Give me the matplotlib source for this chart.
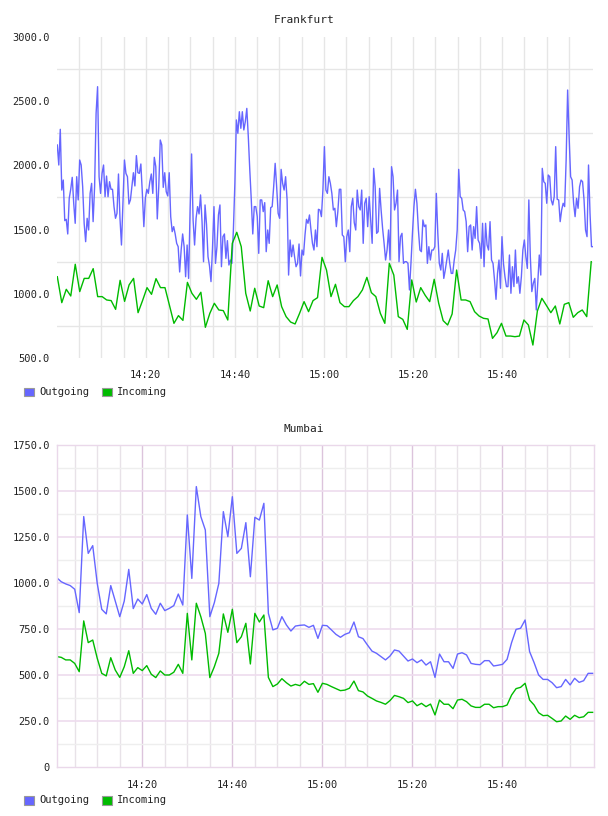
import matplotlib
matplotlib.use("Agg")
import matplotlib.pyplot as plt
import matplotlib.dates as mdates
from matplotlib.patches import Rectangle
import pandas as pd

# Frankfurt, outgoing sampled ~every 20 s, incoming once a minute
fra_out = [2159, 2003, 2281, 1808, 1886, 1570, 1580, 1466, 1744, 1814, 1907, 1705, 1549, 1912, 1731,
           2042, 2003, 1834, 1549, 1406, 1588, 1497, 1782, 1860, 1562, 1834, 2405, 2613, 1912, 1782,
           1938, 2003, 1756, 1917, 1756, 1873, 1814, 1814, 1679, 1588, 1627, 1933, 1588, 1380, 1705,
           2042, 1938, 1912, 1699, 1731, 1834, 1943, 1840, 2076, 1943, 1938, 2011, 1782, 1523, 1744,
           1814, 1782, 1873, 1933, 1782, 2063, 1990, 1583, 1834, 2198, 2159, 1829, 1943, 1795, 1762,
           1943, 1601, 1484, 1523, 1466, 1393, 1367, 1170, 1341, 1466, 1367, 1133, 1380, 1120, 1653,
           2089, 1575, 1380, 1588, 1679, 1622, 1770, 1562, 1250, 1692, 1541, 1289, 1217, 1095, 1354,
           1679, 1237, 1367, 1614, 1692, 1211, 1445, 1466, 1276, 1414, 1224, 1263, 1237, 1497, 1860,
           2354, 2250, 2418, 2289, 2418, 2276, 2341, 2444, 2224, 1964, 1731, 1466, 1679, 1679, 1601,
           1315, 1731, 1731, 1640, 1710, 1328, 1497, 1393, 1671, 1679, 1834, 2016, 1834, 1627, 1588,
           1969, 1860, 1808, 1912, 1731, 1146, 1419, 1289, 1380, 1289, 1211, 1237, 1388, 1139, 1341,
           1302, 1458, 1580, 1549, 1614, 1497, 1393, 1341, 1497, 1367, 1658, 1653, 1601, 1808, 2146,
           1808, 1782, 1912, 1860, 1782, 1653, 1666, 1523, 1640, 1814, 1814, 1458, 1445, 1250, 1445,
           1497, 1328, 1679, 1744, 1554, 1497, 1808, 1679, 1653, 1808, 1393, 1705, 1744, 1523, 1756,
           1575, 1393, 1977, 1834, 1471, 1484, 1821, 1653, 1510, 1393, 1263, 1341, 1497, 1263, 1990,
           1912, 1653, 1705, 1808, 1250, 1445, 1471, 1237, 1250, 1250, 1237, 1030, 1237, 1471, 1679,
           1814, 1705, 1497, 1341, 1328, 1575, 1523, 1536, 1237, 1367, 1263, 1341, 1341, 1367, 1782,
           1471, 1237, 1185, 1315, 1120, 1185, 1263, 1341, 1237, 1159, 1159, 1263, 1341, 1497, 1969,
           1756, 1744, 1653, 1640, 1562, 1328, 1523, 1536, 1341, 1523, 1432, 1679, 1419, 1393, 1276,
           1549, 1211, 1549, 1380, 1341, 1562, 1263, 1237, 1108, 957, 1159, 1263, 1043, 1445, 1237,
           1133, 1056, 1056, 1302, 1004, 1211, 1056, 1341, 1082, 1133, 1004, 1133, 1341, 1419, 1289,
           1198, 1731, 1289, 1017, 1082, 1120, 874, 1082, 1302, 1146, 1977, 1873, 1860, 1705, 1925,
           1912, 1731, 1692, 1756, 2146, 1736, 1731, 1562, 1653, 1705, 1679, 2042, 2587, 2224, 1912,
           1886, 1705, 1601, 1744, 1666, 1834, 1886, 1873, 1731, 1497, 1445, 2003, 1627, 1367, 1367]
fra_in = [1133, 931, 1035, 983, 1230, 1017, 1120, 1120, 1196, 978, 978, 952, 947, 879, 1105,
          941, 1069, 1120, 853, 947, 1048, 996, 1118, 1048, 1048, 910, 770, 830, 793, 1089,
          1004, 957, 1012, 739, 848, 926, 874, 869, 796, 1393, 1479, 1367, 1004, 866, 1043,
          905, 892, 1102, 978, 1069, 900, 822, 780, 765, 848, 939, 861, 947, 970, 1284,
          1185, 978, 1074, 931, 900, 900, 947, 978, 1030, 1128, 1009, 978, 848, 770, 1237,
          1146, 822, 801, 723, 1108, 936, 1048, 988, 939, 1113, 926, 791, 757, 843, 1185,
          952, 952, 939, 861, 827, 809, 804, 653, 697, 770, 671, 671, 666, 671, 796,
          757, 601, 866, 965, 910, 853, 905, 765, 918, 931, 817, 853, 874, 822, 1250]

# Mumbai, once a minute
mum_out = [1029, 1007, 995, 986, 966, 839, 1361, 1161, 1203, 998, 857, 832, 986, 902, 817,
           902, 1074, 861, 913, 886, 937, 862, 830, 890, 850, 862, 877, 940, 880, 1370,
           1025, 1524, 1361, 1288, 817, 893, 998, 1388, 1252, 1469, 1161, 1188, 1328, 1034, 1357,
           1342, 1433, 835, 745, 754, 817, 772, 739, 766, 770, 772, 759, 770, 699, 770,
           768, 745, 721, 705, 721, 730, 788, 708, 698, 663, 630, 618, 600, 582, 603,
           636, 630, 603, 576, 587, 567, 582, 554, 572, 487, 614, 572, 572, 536, 614,
           621, 609, 563, 558, 556, 578, 578, 549, 553, 558, 585, 676, 748, 754, 799,
           627, 567, 500, 476, 476, 458, 431, 437, 476, 446, 482, 460, 469, 509, 509]
mum_in = [600, 596, 582, 582, 563, 518, 794, 676, 690, 591, 509, 495, 594, 527, 487,
          545, 632, 509, 540, 524, 551, 504, 486, 522, 500, 500, 515, 558, 509, 835,
          582, 890, 817, 726, 486, 545, 618, 832, 732, 857, 676, 708, 781, 560, 835,
          788, 826, 487, 437, 451, 480, 458, 440, 449, 442, 466, 449, 453, 406, 455,
          449, 437, 426, 415, 418, 428, 467, 415, 408, 386, 373, 359, 351, 341, 361,
          389, 382, 373, 350, 359, 333, 346, 328, 342, 283, 364, 341, 341, 317, 364,
          368, 355, 332, 324, 324, 341, 341, 322, 328, 328, 337, 391, 426, 433, 455,
          364, 337, 295, 279, 281, 264, 246, 250, 277, 259, 281, 268, 273, 297, 297]

fra_yticks = [500, 1000, 1500, 2000, 2500, 3000]
fra_ylabels = ["500.0", "1000.0", "1500.0", "2000.0", "2500.0", "3000.0"]
mum_yticks = [0, 250, 500, 750, 1000, 1250, 1500, 1750]
mum_ylabels = ["0", "250.0", "500.0", "750.0", "1000.0", "1250.0", "1500.0", "1750.0"]
xlabels = ["14:20", "14:40", "15:00", "15:20", "15:40"]

day = "2020-01-01 "
fra_t_out = pd.date_range(day + "14:00:08", day + "16:00:24", periods=len(fra_out))
fra_t_in = pd.date_range(day + "14:00:08", day + "16:00:00", periods=len(fra_in))
mum_t = pd.date_range(day + "14:00:59", day + "16:00:05", periods=len(mum_out))

major_t = pd.to_datetime([day + s for s in xlabels])
minor_t = pd.date_range(day + "14:05", day + "15:55", freq="5min")

BLUE = "#6666ff"
GREEN = "#00bb00"
MONO = "DejaVu Sans Mono"
TXT = "#222222"

W, H = 608, 816
fig = plt.figure(figsize=(W / 100, H / 100), dpi=100)


def setup(ax, yt, yl, ylim, xlim):
    ax.set_xlim(pd.Timestamp(day + xlim[0]), pd.Timestamp(day + xlim[1]))
    ax.set_ylim(*ylim)
    ax.set_yticks(yt, yl)
    ax.set_xticks(mdates.date2num(major_t), xlabels)
    ax.tick_params(length=0, labelsize=7.5, colors=TXT)
    ax.tick_params(axis="y", pad=5)
    ax.tick_params(axis="x", pad=9)
    for lab in ax.get_xticklabels() + ax.get_yticklabels():
        lab.set_family(MONO)


# Frankfurt
ax1 = fig.add_axes([57 / W, 1 - 358 / H, (593 - 57) / W, 321 / H])
setup(ax1, fra_yticks, fra_ylabels, (500, 3000), ("14:00:04", "16:00:24"))
for s in ax1.spines.values():
    s.set_visible(False)
for t in minor_t:
    ax1.axvline(t, color="#e6e6e6", lw=1, zorder=0)
for v in [750, 1250, 1750, 2250, 2750]:
    ax1.axhline(v, color="#e6e6e6", lw=1, zorder=0)
ax1.plot(fra_t_out, fra_out, color=BLUE, lw=1.0)
ax1.plot(fra_t_in, fra_in, color=GREEN, lw=1.0)

# Mumbai
ax2 = fig.add_axes([56.7 / W, 1 - 767 / H, (594 - 56.7) / W, 322 / H])
setup(ax2, mum_yticks, mum_ylabels, (0, 1750), ("14:00:59", "16:00:23"))
for s in ax2.spines.values():
    s.set_color("#ead8ea")
    s.set_linewidth(1)
for t in minor_t:
    col = "#dcc4dc" if t in major_t else "#e8e2e8"
    ax2.axvline(t, color=col, lw=1, zorder=0)
for v in range(125, 1750, 125):
    col = "#eedcee" if v % 250 == 0 else "#eeeeee"
    ax2.axhline(v, color=col, lw=1.2 if v % 250 == 0 else 1, zorder=0)
ax2.plot(mum_t, mum_out, color=BLUE, lw=1.0)
ax2.plot(mum_t, mum_in, color=GREEN, lw=1.0)

# titles and legends
fig.text(304 / W, 1 - 20 / H, "Frankfurt", ha="center", va="center", fontsize=8, family=MONO, color=TXT)
fig.text(304 / W, 1 - 429 / H, "Mumbai", ha="center", va="center", fontsize=8, family=MONO, color=TXT)

for ly in [392, 800]:
    for x0, name, col in [(24, "Outgoing", BLUE), (102, "Incoming", GREEN)]:
        fig.patches.append(Rectangle((x0 / W, 1 - (ly + 4.5) / H), 10 / W, 9 / H,
                                     transform=fig.transFigure, facecolor=col,
                                     edgecolor="#999999", lw=0.8))
        fig.text((x0 + 15) / W, 1 - ly / H, name, ha="left", va="center",
                 fontsize=7.5, family=MONO, color=TXT)

fig.savefig("out.png", dpi=100)
